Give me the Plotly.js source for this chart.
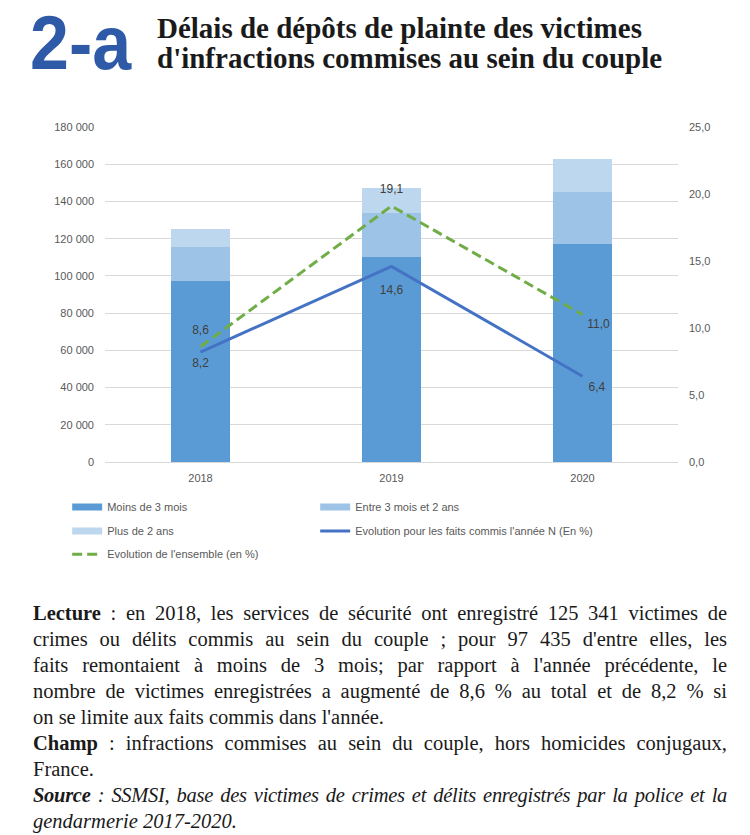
<!DOCTYPE html>
<html>
<head>
<meta charset="utf-8">
<script src="https://cdn.plot.ly/plotly-3.0.1.min.js"></script>
<style>
  body { margin:0; width:750px; height:835px; background:#fff; position:relative; overflow:hidden; }
  #chart { position:absolute; left:0; top:0; width:750px; height:590px; }
  #num { position:absolute; left:30px; top:5px; font-family:"Liberation Sans","Arial",sans-serif; font-weight:bold; font-size:76px; line-height:76px; color:#2E5AA8; transform:scaleX(0.92); transform-origin:left top; }
  #ttl { position:absolute; left:157px; top:13px; font-family:"Liberation Serif",serif; font-weight:bold; font-size:29px; line-height:30px; color:#1a1a1a; white-space:nowrap; }
  #notes { position:absolute; left:33px; top:600px; width:694px; font-family:"Liberation Serif",serif; font-size:20.5px; line-height:26px; color:#1a1a1a; }
  #notes .j { text-align:justify; text-align-last:justify; }
  #notes .l { text-align:left; }
</style>
</head>
<body>
<div id="chart"></div>
<div id="num">2-a</div>
<div id="ttl">Délais de dépôts de plainte des victimes<br>d'infractions commises au sein du couple</div>
<div id="notes">
  <div class="j"><b>Lecture</b> : en 2018, les services de sécurité ont enregistré 125 341 victimes de</div>
  <div class="j">crimes ou délits commis au sein du couple ; pour 97 435 d'entre elles, les</div>
  <div class="j">faits remontaient à moins de 3 mois; par rapport à l'année précédente, le</div>
  <div class="j">nombre de victimes enregistrées a augmenté de 8,6 % au total et de 8,2 % si</div>
  <div class="l">on se limite aux faits commis dans l'année.</div>
  <div class="j"><b>Champ</b> : infractions commises au sein du couple, hors homicides conjugaux,</div>
  <div class="l">France.</div>
  <div class="j" style="letter-spacing:-0.3px"><b><i>Source</i></b> <i>: SSMSI, base des victimes de crimes et délits enregistrés par la police et la</i></div>
  <div class="l"><i>gendarmerie 2017-2020.</i></div>
</div>
<script>
const years = ["2018", "2019", "2020"];
const moins3mois = [97435, 110300, 117100];
const entre3mois2ans = [18300, 23650, 28100];
const plus2ans = [9606, 13100, 17600];
const evolAnneeN = [8.2, 14.6, 6.4];
const evolEnsemble = [8.6, 19.1, 11.0];
const seriesNames = ["Moins de 3 mois", "Entre 3 mois et 2 ans", "Plus de 2 ans",
  "Evolution pour les faits commis l'année N (En %)", "Evolution de l'ensemble (en %)"];

const font = {family: "Liberation Sans, Arial, sans-serif", size: 11, color: "#595959"};
const labelFont = {family: "Liberation Sans, Arial, sans-serif", size: 12, color: "#404040"};
const colors = ["#5B9BD5", "#9DC3E6", "#BDD7EE", "#4472C4", "#70AD47"];

function legendSwatch(i, legend, lw) {
  return {type: "scatter", mode: "lines", name: seriesNames[i], x: [years[0]], y: [null],
          line: {color: colors[i], width: 7}, legend: legend, legendwidth: lw, hoverinfo: "skip"};
}

const hiddenMarker = (sizes) => ({size: sizes, color: "rgba(0,0,0,0)", opacity: 0, line: {width: 0}});

const traces = [
  {type: "bar", name: seriesNames[0], x: years, y: moins3mois, marker: {color: colors[0]}, showlegend: false},
  {type: "bar", name: seriesNames[1], x: years, y: entre3mois2ans, marker: {color: colors[1]}, showlegend: false},
  {type: "bar", name: seriesNames[2], x: years, y: plus2ans, marker: {color: colors[2]}, showlegend: false},
  legendSwatch(0, "legend", 203),
  legendSwatch(1, "legend", 320),
  legendSwatch(2, "legend2", 203),
  {type: "scatter", mode: "lines+markers+text", name: seriesNames[3],
   x: years, y: evolAnneeN, yaxis: "y2", legend: "legend2", legendwidth: 320,
   line: {color: colors[3], width: 3},
   marker: hiddenMarker([8, 28, 8]),
   texttemplate: "%{y:.1f}", textposition: ["bottom center", "bottom center", "bottom right"],
   textfont: labelFont, cliponaxis: false},
  {type: "scatter", mode: "lines+markers+text", name: seriesNames[4],
   x: years, y: evolEnsemble, yaxis: "y2", legend: "legend3", legendwidth: 320,
   line: {color: colors[4], width: 3, dash: "10px,5px"},
   marker: hiddenMarker([14, 15, 6]),
   texttemplate: "%{y:.1f}", textposition: ["top center", "top center", "bottom right"],
   textfont: labelFont, cliponaxis: false}
];

const legBase = {orientation: "h", xref: "paper", yref: "paper", x: -0.066, xanchor: "left",
  yanchor: "middle", font: font, bgcolor: "rgba(0,0,0,0)", entrywidth: 203, entrywidthmode: "pixels",
  traceorder: "normal", itemwidth: 30};

const layout = {
  width: 750, height: 590,
  margin: {l: 105, r: 72, t: 127, b: 128},
  paper_bgcolor: "rgba(0,0,0,0)", plot_bgcolor: "rgba(0,0,0,0)",
  separators: ", ",
  barmode: "stack", bargap: 0.69,
  font: font,
  showlegend: true,
  xaxis: {type: "category", showgrid: false, zeroline: false, showline: true, linecolor: "#D9D9D9",
          ticks: "", tickfont: font, ticklabelstandoff: 6},
  yaxis: {range: [0, 180000], dtick: 20000, tickformat: ",d", showgrid: true, gridcolor: "#D9D9D9",
          zeroline: false, showline: false, ticks: "", tickfont: font, ticklabelstandoff: 10},
  yaxis2: {overlaying: "y", side: "right", range: [0, 25], dtick: 5, tickformat: ".1f",
           showgrid: false, zeroline: false, showline: false, ticks: "", tickfont: font, ticklabelstandoff: 10},
  legend: Object.assign({}, legBase, {y: -0.134}),
  legend2: Object.assign({}, legBase, {y: -0.206}),
  legend3: Object.assign({}, legBase, {y: -0.275})
};

Plotly.newPlot("chart", traces, layout, {displayModeBar: false, staticPlot: true});
</script>
</body>
</html>
